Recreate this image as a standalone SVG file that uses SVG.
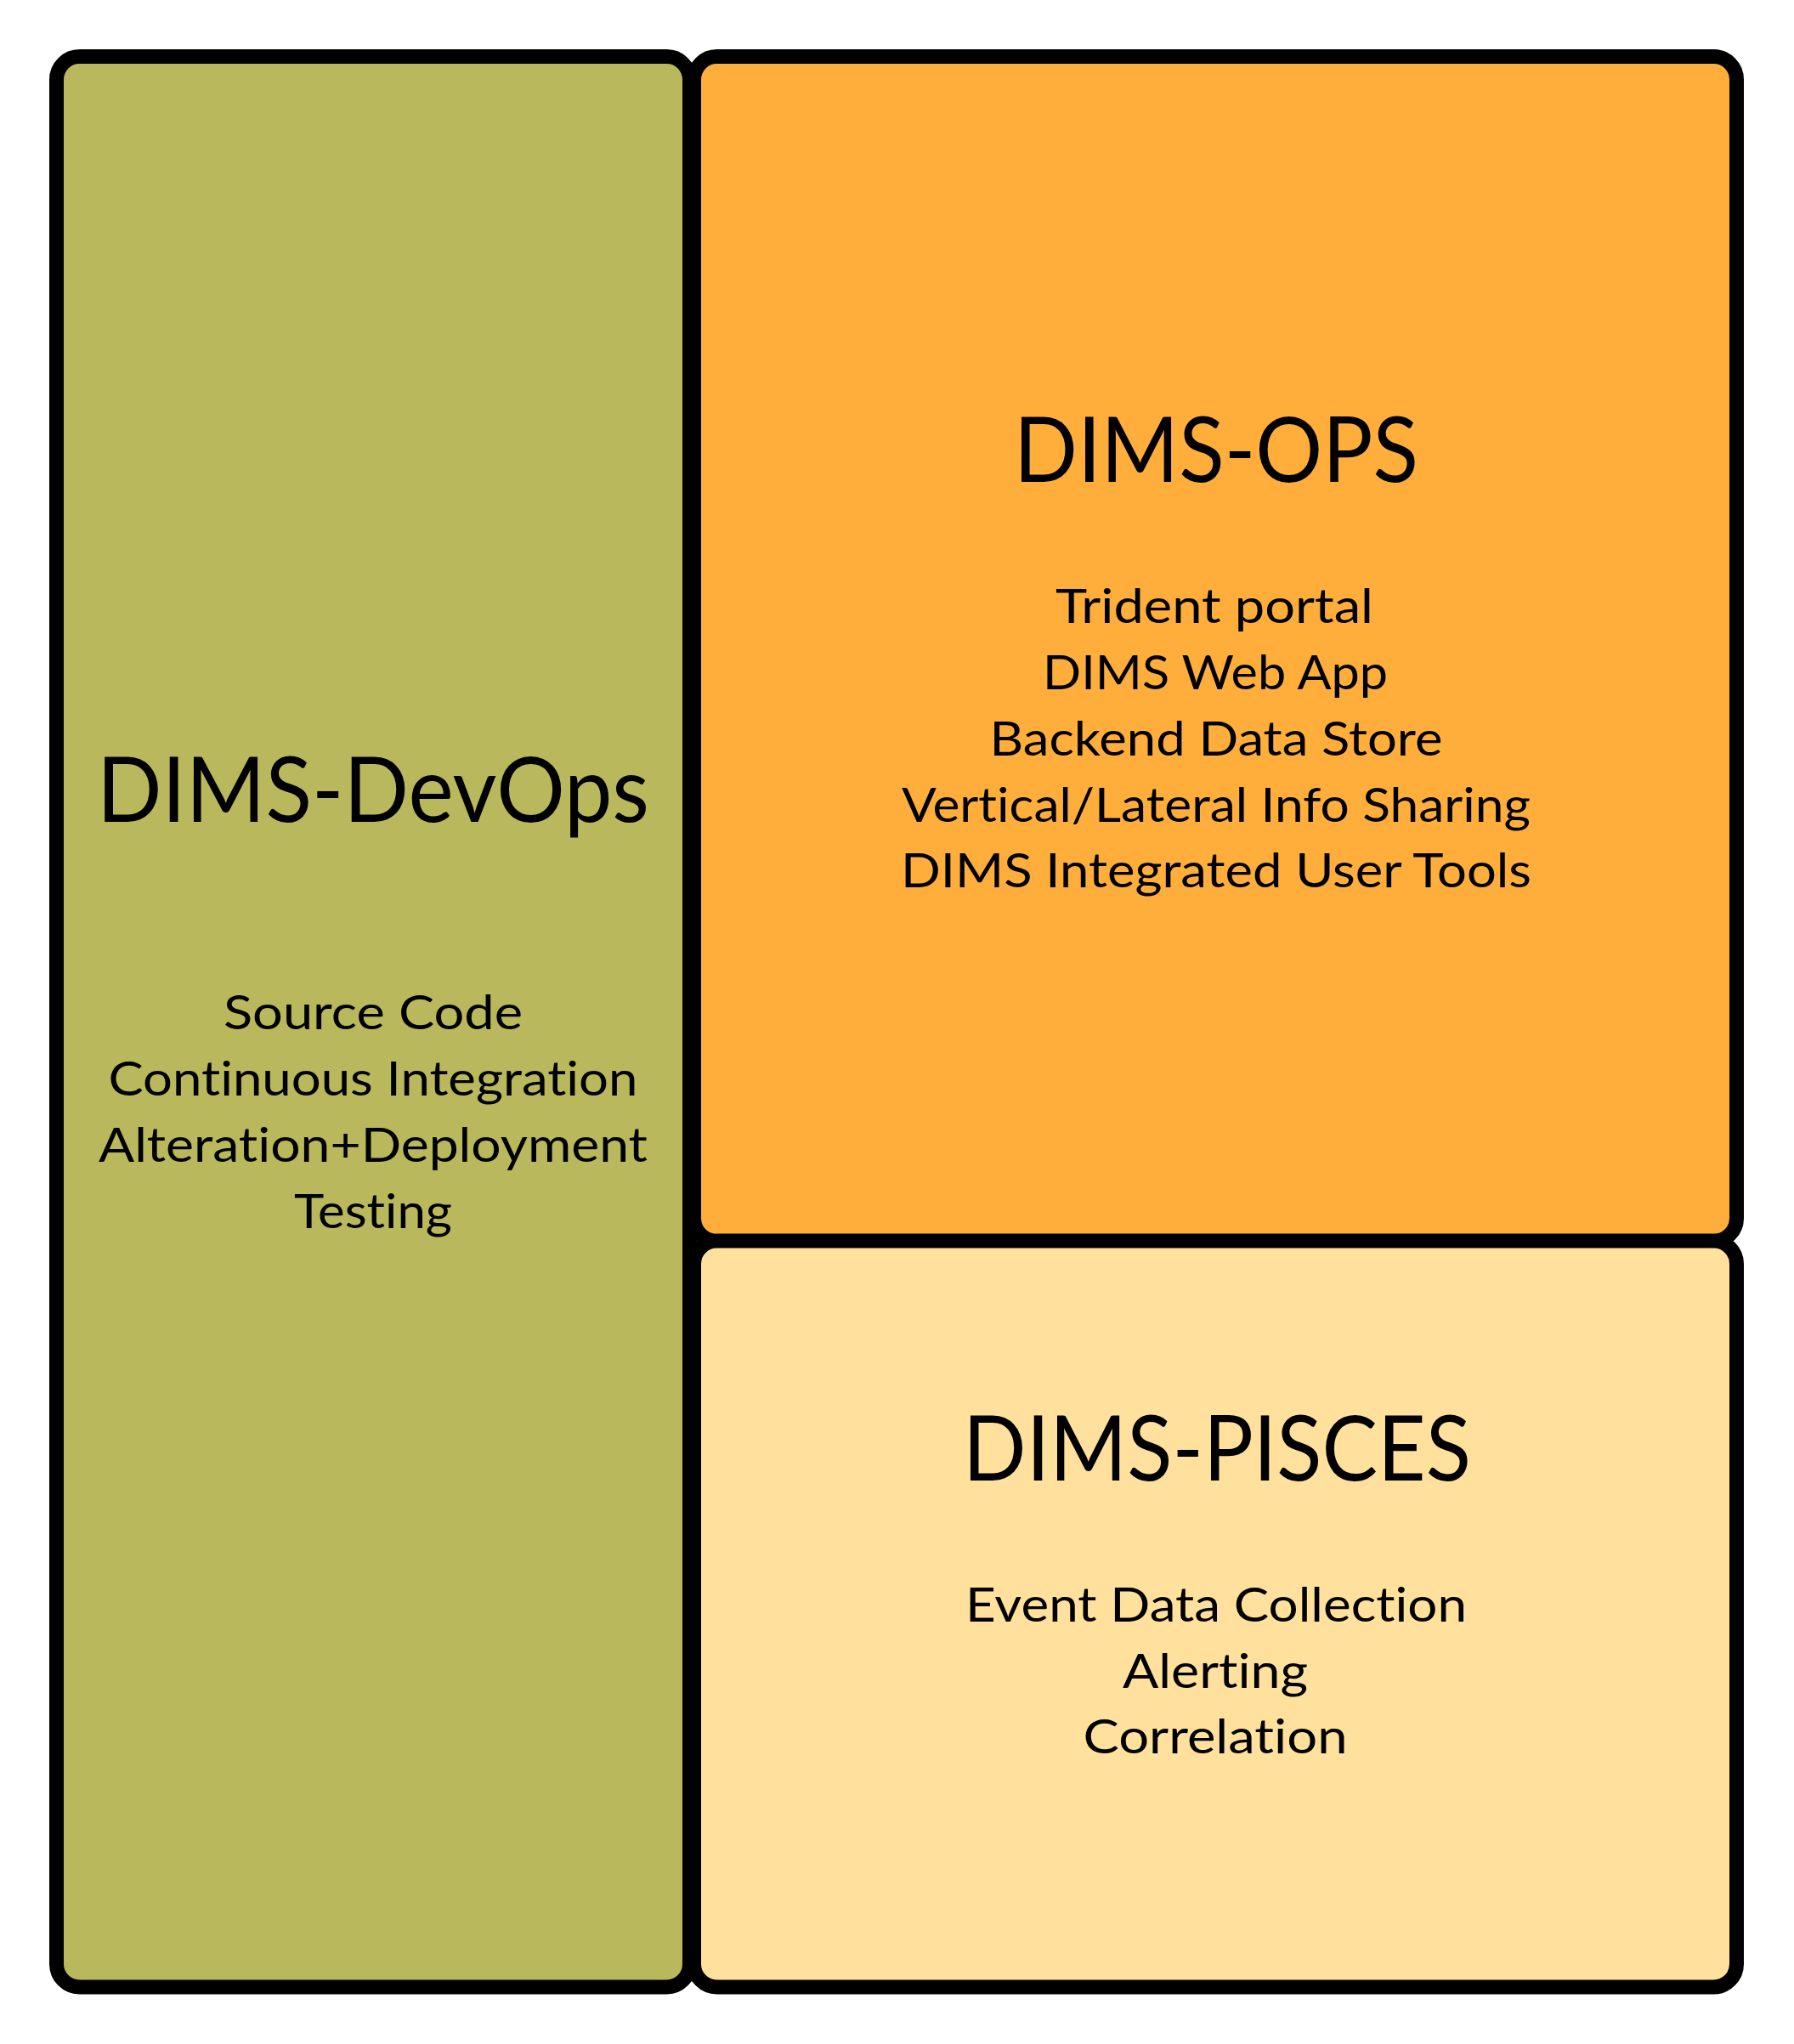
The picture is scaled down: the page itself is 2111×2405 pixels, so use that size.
<svg xmlns="http://www.w3.org/2000/svg" width="2111" height="2405" viewBox="0 0 2111 2405">
<style>
  .box { stroke: #000000; stroke-width: 17; }
  .title { font-family: Lato, "Open Sans", "Liberation Sans", sans-serif; font-size: 107px; fill: #000000; text-anchor: middle; font-variant-ligatures: none; }
  .item { font-family: Lato, "Open Sans", "Liberation Sans", sans-serif; font-size: 57px; fill: #000000; text-anchor: middle; font-variant-ligatures: none; }
</style>
<rect x="0" y="0" width="2111" height="2405" fill="#ffffff"/>
<g id="devops">
  <rect class="box" x="66.5" y="66.5" width="745" height="2271.5" rx="27" ry="27" fill="#B9B85C"/>
  <text class="title" x="439" y="967" textLength="650" lengthAdjust="spacingAndGlyphs">DIMS-DevOps</text>
  <text class="item" x="439" y="1211" textLength="352" lengthAdjust="spacingAndGlyphs">Source Code</text>
  <text class="item" x="439" y="1289" textLength="623" lengthAdjust="spacingAndGlyphs">Continuous Integration</text>
  <text class="item" x="439" y="1367" textLength="646" lengthAdjust="spacingAndGlyphs">Alteration+Deployment</text>
  <text class="item" x="439" y="1445" textLength="186" lengthAdjust="spacingAndGlyphs">Testing</text>
</g>
<g id="ops">
  <rect class="box" x="816.5" y="66.5" width="1227" height="1394" rx="27" ry="27" fill="#FFAE3C"/>
  <text class="title" x="1431" y="567" textLength="476" lengthAdjust="spacingAndGlyphs">DIMS-OPS</text>
  <text class="item" x="1429" y="733" textLength="374" lengthAdjust="spacingAndGlyphs">Trident portal</text>
  <text class="item" x="1430" y="811" textLength="406" lengthAdjust="spacingAndGlyphs">DIMS Web App</text>
  <text class="item" x="1431" y="889" textLength="533" lengthAdjust="spacingAndGlyphs">Backend Data Store</text>
  <text class="item" x="1431" y="967" textLength="740" lengthAdjust="spacingAndGlyphs">Vertical/Lateral Info Sharing</text>
  <text class="item" x="1431" y="1044" textLength="742" lengthAdjust="spacingAndGlyphs">DIMS Integrated User Tools</text>
</g>
<g id="pisces">
  <rect class="box" x="816.5" y="1460" width="1227" height="878" rx="27" ry="27" fill="#FFE09D"/>
  <text class="title" x="1432" y="1742" textLength="598" lengthAdjust="spacingAndGlyphs">DIMS-PISCES</text>
  <text class="item" x="1431" y="1908" textLength="590" lengthAdjust="spacingAndGlyphs">Event Data Collection</text>
  <text class="item" x="1430" y="1986" textLength="218" lengthAdjust="spacingAndGlyphs">Alerting</text>
  <text class="item" x="1430" y="2063" textLength="311" lengthAdjust="spacingAndGlyphs">Correlation</text>
</g>
<g id="connectors"></g>
</svg>
